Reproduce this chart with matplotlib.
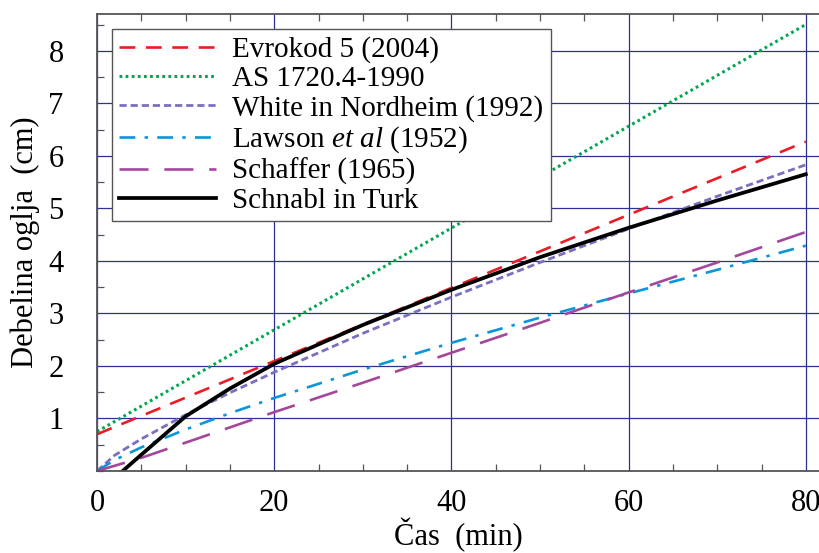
import matplotlib
matplotlib.use("Agg")
import matplotlib.pyplot as plt
from matplotlib.ticker import MultipleLocator, FixedLocator

plt.rcParams["font.family"] = ["Liberation Serif", "DejaVu Serif"]
plt.rcParams["mathtext.fontset"] = "custom"
plt.rcParams["mathtext.rm"] = "Liberation Serif"
plt.rcParams["mathtext.it"] = "Liberation Serif:italic"

# values (time in min, char depth in cm)
t_lin = [0, 80]
evrokod = [0.70, 6.27]
as1720 = [0.75, 8.50]

t = [0, 2, 5, 10, 15, 20, 30, 40, 50, 60, 70, 80]
white_nordheim = [0, 0.30, 0.61, 1.07, 1.49, 1.88, 2.62, 3.31, 3.97, 4.61, 5.23, 5.83]
lawson = [0, 0.21, 0.45, 0.79, 1.10, 1.39, 1.93, 2.44, 2.92, 3.38, 3.83, 4.29]
schaffer = [0, 0.10, 0.25, 0.54, 0.83, 1.12, 1.68, 2.25, 2.82, 3.40, 3.97, 4.55]

t_sch = [2.9, 5, 10, 15, 20, 30, 40, 50, 60, 70, 80]
schnabl = [0, 0.31, 1.04, 1.57, 2.04, 2.78, 3.45, 4.07, 4.63, 5.15, 5.65]

labels = [
    "Evrokod 5 (2004)",
    "AS 1720.4-1990",
    "White in Nordheim (1992)",
    "Lawson $\\it{et\\ al}$ (1952)",
    "Schaffer (1965)",
    "Schnabl in Turk",
]

fig = plt.figure(figsize=(8.2, 5.53), dpi=100)
ax = fig.add_axes([97 / 820, 1 - 471 / 553, 1 - 97 / 820, (471 - 14) / 553])

ax.plot(t_lin, evrokod, color="#ed1c24", lw=1.9, dashes=(6, 4), label=labels[0])
ax.plot(t_lin, as1720, color="#00a651", lw=2.2, dashes=(0.9, 1.1), label=labels[1])
ax.plot(t, white_nordheim, color="#7a6fc0", lw=2.0, dashes=(2.6, 1.4), label=labels[2])
ax.plot(t, lawson, color="#0a96d8", lw=1.9, dashes=(6, 3.5, 1.3, 3.5), label=labels[3])
ax.plot(t, schaffer, color="#a4479b", lw=1.9, dashes=(11, 6), label=labels[4])
ax.plot(t_sch, schnabl, color="black", lw=2.7, label=labels[5])

ax.set_xlim(0, 81.6)
ax.set_ylim(0, 8.7)
ax.xaxis.set_major_locator(FixedLocator([0, 20, 40, 60, 80]))
ax.xaxis.set_minor_locator(MultipleLocator(5))
ax.yaxis.set_major_locator(FixedLocator([1, 2, 3, 4, 5, 6, 7, 8]))
ax.yaxis.set_minor_locator(MultipleLocator(0.5))
ax.grid(True, which="major", color="#2e3192", lw=0.9)
ax.tick_params(which="both", direction="in", top=True, right=False,
               color="#555555", labelsize=22)
ax.tick_params(axis="x", which="major", length=0, pad=13)
ax.tick_params(axis="y", which="major", length=0, pad=24)
ax.tick_params(which="minor", length=5, width=0.9)
for side in ["left", "bottom", "top"]:
    ax.spines[side].set_color("#555555")
    ax.spines[side].set_linewidth(1.3)
ax.spines["right"].set_visible(False)

ax.set_xlabel("Čas  (min)", fontsize=22, labelpad=0)
ax.set_ylabel("Debelina oglja  (cm)", fontsize=22, labelpad=6)

leg = ax.legend(loc="upper left", bbox_to_anchor=(0.0207, 0.967), fontsize=21,
                fancybox=False, framealpha=1, edgecolor="#555555",
                handlelength=3.3, handletextpad=0.58, labelspacing=0.09,
                borderpad=0.25, borderaxespad=0)
leg.get_frame().set_linewidth(1.0)

fig.savefig("out.png", dpi=100)
